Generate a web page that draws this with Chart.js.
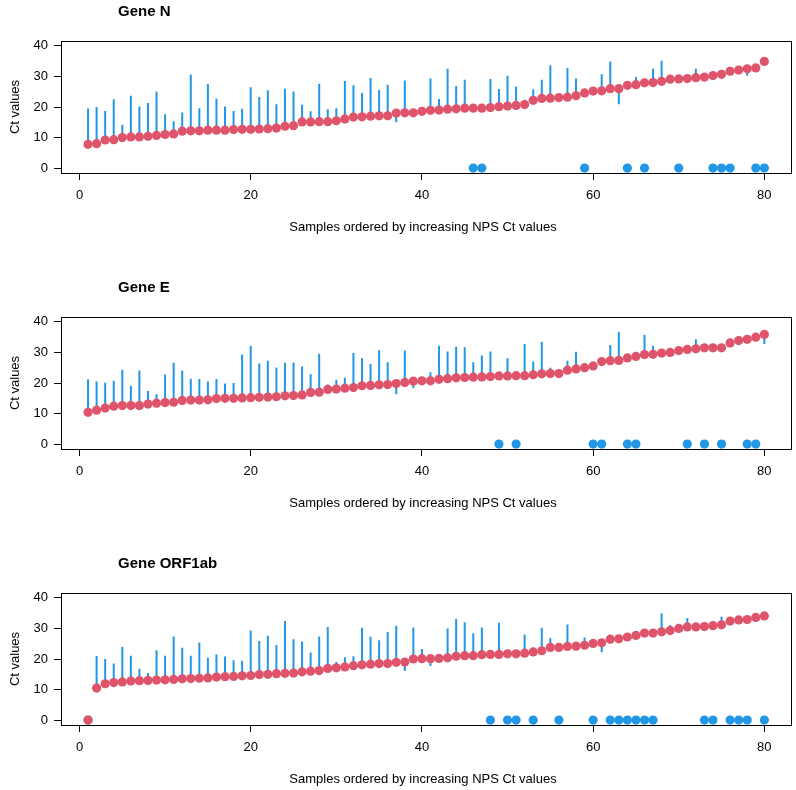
<!DOCTYPE html>
<html><head><meta charset="utf-8">
<script src="https://cdn.jsdelivr.net/npm/chart.js@4.4.1/dist/chart.umd.min.js"></script>
<style>
html,body{margin:0;padding:0;background:#fff;width:796px;height:790px;overflow:hidden;}
.panel{position:absolute;left:0;width:796px;height:240px;}
canvas{display:block;}
</style></head><body>
<div class="panel" style="top:0px"><canvas id="c1" width="796" height="240"></canvas></div>
<div class="panel" style="top:276px"><canvas id="c2" width="796" height="240"></canvas></div>
<div class="panel" style="top:552px"><canvas id="c3" width="796" height="240"></canvas></div>
<script>
const samples = [1,2,3,4,5,6,7,8,9,10,11,12,13,14,15,16,17,18,19,20,21,22,23,24,25,26,27,28,29,30,31,32,33,34,35,36,37,38,39,40,41,42,43,44,45,46,47,48,49,50,51,52,53,54,55,56,57,58,59,60,61,62,63,64,65,66,67,68,69,70,71,72,73,74,75,76,77,78,79,80];
const xTickValues = [0,20,40,60,80];
const yTickValues = [0,10,20,30,40];
const geneTitles = ["Gene N","Gene E","Gene ORF1ab"];
const yAxisTitle = "Ct values";
const xAxisTitle = "Samples ordered by increasing NPS Ct values";

// Gene N: NPS Ct (red) and paired sample Ct (blue; 0 = negative)
const npsN = [7.8,8.0,9.2,9.3,10.0,10.2,10.2,10.4,10.7,11.0,11.2,12.1,12.2,12.2,12.4,12.4,12.4,12.6,12.7,12.7,12.8,12.9,13.1,13.7,13.9,15.1,15.1,15.2,15.2,15.5,16.1,16.7,16.8,17.0,17.1,17.1,18.0,18.1,18.1,18.6,18.9,19.0,19.3,19.4,19.6,19.6,19.6,19.8,20.1,20.3,20.5,20.8,22.2,22.8,22.9,23.1,23.2,23.7,24.6,25.2,25.3,26.0,26.0,27.1,27.3,27.9,28.0,28.4,29.1,29.2,29.3,29.6,29.8,30.3,30.7,31.7,32.1,32.5,32.8,34.9];
const otherN = [19.5,20.0,18.7,22.5,14.2,23.7,20.2,21.3,25.1,17.6,15.3,18.2,30.6,19.6,27.5,22.7,20.2,18.7,19.4,26.5,23.3,25.5,20.9,26.0,25.1,20.7,18.6,27.6,19.3,19.6,28.5,27.1,24.6,29.5,25.6,27.3,15.0,28.7,18.4,18.9,29.3,22.6,32.5,26.9,28.9,0,0,29.2,25.9,30.2,26.7,22.4,25.8,28.9,33.7,23.4,32.8,29.3,0,25.5,30.7,34.9,20.9,0,29.8,0,32.5,35.1,29.4,0,29.6,32.5,30.1,0,0,0,32.4,30.2,0,0];

// Gene E
const npsE = [10.4,11.1,11.8,12.4,12.6,12.6,12.6,13.1,13.4,13.6,13.7,14.3,14.4,14.4,14.5,14.9,15.0,15.0,15.1,15.2,15.3,15.4,15.5,15.8,15.9,16.1,16.9,17.0,17.9,18.0,18.3,18.5,19.1,19.2,19.4,19.5,19.8,20.2,20.6,20.7,20.7,21.2,21.4,21.7,21.8,21.9,22.0,22.1,22.3,22.3,22.4,22.4,22.7,23.0,23.1,23.1,24.2,24.6,25.0,25.6,27.0,27.3,27.4,28.2,28.7,29.3,29.4,29.8,30.0,30.6,31.0,31.2,31.5,31.5,31.5,33.1,33.9,34.3,35.0,35.9];
const otherE = [21.2,20.5,20.1,20.7,24.3,19.1,24.1,17.4,16.3,22.8,26.6,24.1,21.4,21.3,20.5,21.3,19.8,20.0,29.3,32.1,26.4,27.3,25.1,26.6,26.7,25.4,22.9,29.6,19.5,21.1,21.7,29.8,28.1,26.2,30.7,26.8,16.3,30.6,18.4,21.0,23.5,32.2,30.3,31.9,31.7,26.8,29.0,30.3,0,28.1,0,32.8,27.0,33.5,25.0,23.4,27.3,30.2,25.3,0,0,32.4,36.8,0,0,35.8,32.2,30.1,31.4,30.9,0,34.3,0,31.8,0,33.4,34.2,0,0,32.8];

// Gene ORF1ab
const npsO = [0,10.5,11.9,12.3,12.5,12.8,12.9,13.0,13.1,13.2,13.3,13.5,13.6,13.7,13.8,14.1,14.2,14.3,14.5,14.6,14.9,15.0,15.2,15.3,15.4,15.8,16.0,16.2,16.9,17.1,17.4,17.8,18.1,18.3,18.5,18.5,18.9,19.0,20.0,20.1,20.1,20.2,20.4,20.9,21.1,21.1,21.4,21.5,21.5,21.7,21.7,21.9,22.3,22.7,23.8,23.8,24.1,24.2,24.5,25.1,25.3,26.5,26.6,27.2,27.7,28.5,28.5,28.9,29.3,30.0,30.5,30.5,30.6,30.9,31.2,32.4,32.8,32.9,33.6,34.1];
const otherO = [0,21.0,20.0,18.5,23.9,21.1,16.8,15.4,22.9,21.1,27.4,23.7,21.1,25.4,20.4,21.5,20.8,19.6,19.4,29.3,25.9,27.6,24.6,32.4,26.5,25.7,22.1,27.4,30.5,19.0,20.6,20.9,30.2,27.3,26.1,28.8,30.9,16.1,30.3,23.3,17.7,20.4,30.0,33.2,32.0,28.4,30.3,0,31.9,0,0,28.0,0,30.2,26.8,0,31.3,24.4,27.0,0,22.2,0,0,0,0,0,0,35.0,31.1,30.2,33.4,30.7,0,0,33.8,0,0,0,33.8,0];

const RED = "#DF536B", BLUE = "#2297E6";
const FONT = "'Liberation Sans', Arial, Helvetica, sans-serif";

function framePlugin(title){
  return {
    id:'frame',
    afterDraw(chart){
      const ctx = chart.ctx, a = chart.chartArea;
      ctx.save();
      ctx.strokeStyle = '#000'; ctx.lineWidth = 1;
      ctx.strokeRect(Math.round(a.left)+0.5, Math.round(a.top)+0.5, Math.round(a.right-a.left), Math.round(a.bottom-a.top));
      ctx.fillStyle = '#000';
      ctx.font = "bold 15px " + FONT;
      ctx.textAlign = 'left'; ctx.textBaseline = 'middle';
      ctx.fillText(title, 118, 12);
      ctx.font = "13px " + FONT;
      ctx.textAlign = 'center';
      ctx.fillText(xAxisTitle, 423, 227);
      ctx.translate(15, (a.top+a.bottom)/2);
      ctx.rotate(-Math.PI/2);
      ctx.fillText(yAxisTitle, 0, 0);
      ctx.restore();
    }
  };
}

function makeChart(id, title, nps, other){
  const red = samples.map((s,i)=>({x:s, y:nps[i]}));
  const zeros = [], segs = [];
  samples.forEach((s,i)=>{
    if (other[i] === 0) zeros.push({x:s, y:0});
    else segs.push({x:s, y:nps[i]}, {x:s, y:other[i]}, {x:s, y:null});
  });
  new Chart(document.getElementById(id), {
    type:'scatter',
    data:{datasets:[
      {label:'NPS', data:red, backgroundColor:RED, borderColor:RED, borderWidth:0, pointRadius:4.6, pointHoverRadius:4.6},
      {label:'Negative', data:zeros, backgroundColor:BLUE, borderColor:BLUE, borderWidth:0, pointRadius:4.6, pointHoverRadius:4.6},
      {label:'Paired', data:segs, showLine:true, spanGaps:false, borderColor:BLUE, backgroundColor:BLUE, borderWidth:2, pointRadius:0, pointHoverRadius:0}
    ]},
    options:{
      responsive:false, animation:false, devicePixelRatio:1,
      layout:{padding:{top:41, right:2, left:0, bottom:0}},
      plugins:{legend:{display:false}, tooltip:{enabled:false}, title:{display:false}},
      scales:{
        x:{type:'linear', min:-2.16, max:83.16,
           afterFit(s){ s.height = 67; },
           afterBuildTicks(s){ s.ticks = xTickValues.map(v=>({value:v})); },
           grid:{drawOnChartArea:false, drawTicks:true, tickLength:7, color:'#000', lineWidth:1},
           border:{display:false},
           ticks:{font:{family:FONT, size:13}, color:'#000', padding:8, maxRotation:0, autoSkip:false}},
        y:{type:'linear', min:-1.6, max:41.6,
           afterFit(s){ s.width = 61; },
           afterBuildTicks(s){ s.ticks = yTickValues.map(v=>({value:v})); },
           grid:{drawOnChartArea:false, drawTicks:true, tickLength:7, color:'#000', lineWidth:1},
           border:{display:false},
           ticks:{font:{family:FONT, size:13}, color:'#000', padding:6, autoSkip:false}}
      }
    },
    plugins:[framePlugin(title)]
  });
}

makeChart('c1', geneTitles[0], npsN, otherN);
makeChart('c2', geneTitles[1], npsE, otherE);
makeChart('c3', geneTitles[2], npsO, otherO);
</script>
</body></html>
